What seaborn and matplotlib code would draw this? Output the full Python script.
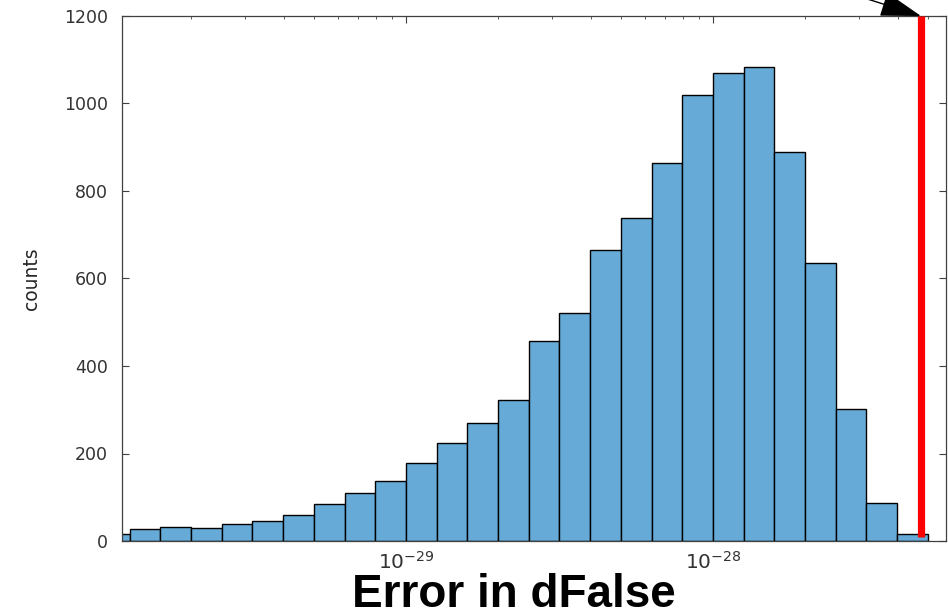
import numpy as np
import pandas as pd
import matplotlib
matplotlib.use("Agg")
import matplotlib.pyplot as plt
import matplotlib.ticker as mticker
import seaborn as sns

# ---- data ----
log_bin_start = -30.0          # first bin left edge, log10 units
log_bin_width = 0.1            # bin width, log10 units
counts = [16, 27, 32, 29, 40, 46, 59, 85, 110, 137,
          178, 224, 270, 322, 457, 521, 665, 738, 864, 1019,
          1070, 1083, 889, 635, 302, 87, 16]
threshold = 4.76e-28           # red marker value
y_ticks = [0, 200, 400, 600, 800, 1000, 1200]
x_ticks = [1e-29, 1e-28]
x_label = "Error in dFalse"
y_label = "counts"

n = len(counts)
log_centers = log_bin_start + log_bin_width * (np.arange(n) + 0.5)
df = pd.DataFrame({"err": 10 ** log_centers, "n": counts})

sns.set_style("ticks")
plt.rcParams["font.family"] = ["DejaVu Sans"]

W, H = 948, 616
fig = plt.figure(figsize=(W / 100, H / 100), dpi=100)
ax = fig.add_axes([122 / W, (H - 541) / H, (946 - 122) / W, (541 - 16) / H])

sns.histplot(data=df, x="err", weights="n", log_scale=True,
             binwidth=log_bin_width,
             binrange=(log_bin_start, log_bin_start + log_bin_width * n),
             color="#66aad7", alpha=1.0, edgecolor="black", linewidth=1.0,
             ax=ax)

ax.plot([threshold, threshold], [10, 1200], color="red", lw=5.2,
        solid_capstyle="butt", zorder=5)

ax.set_xlim(10 ** -29.925, 10 ** -27.241)
ax.set_ylim(0, 1200)
ax.set_yticks(y_ticks)
ax.xaxis.set_major_locator(mticker.FixedLocator(x_ticks))
ax.xaxis.set_major_formatter(mticker.LogFormatterSciNotation(base=10))
ax.xaxis.set_minor_locator(mticker.LogLocator(base=10, subs=np.arange(2, 10), numticks=20))
ax.xaxis.set_minor_formatter(mticker.NullFormatter())

for s in ax.spines.values():
    s.set_visible(True)
    s.set_color("#404040")
    s.set_linewidth(0.9)

ax.tick_params(axis="both", which="both", direction="in", top=True, right=True,
               colors="#404040", labelcolor="#333333")
ax.tick_params(axis="y", which="major", length=5, labelsize=12.5, pad=10)
ax.tick_params(axis="x", which="major", length=5, labelsize=14.5, pad=7)
ax.tick_params(axis="x", which="minor", length=2.5)

ax.set_xlabel("")
ax.set_ylabel(y_label, fontsize=13.5, color="#262626")
ax.yaxis.set_label_coords(-0.098, 0.5)

fig.text(514 / W, 9 / H, x_label, ha="center", va="baseline",
         fontsize=33, fontweight="bold", family=["Liberation Sans", "DejaVu Sans"],
         color="black")

ax.annotate("", xy=(threshold, 1200), xycoords="data",
            xytext=(820 / W, (H + 16) / H), textcoords="figure fraction",
            annotation_clip=False,
            arrowprops=dict(arrowstyle="-|>,head_length=1.3,head_width=0.4",
                            color="black", lw=1.0, mutation_scale=20,
                            shrinkA=0, shrinkB=0))

fig.savefig("out.png", dpi=100)
